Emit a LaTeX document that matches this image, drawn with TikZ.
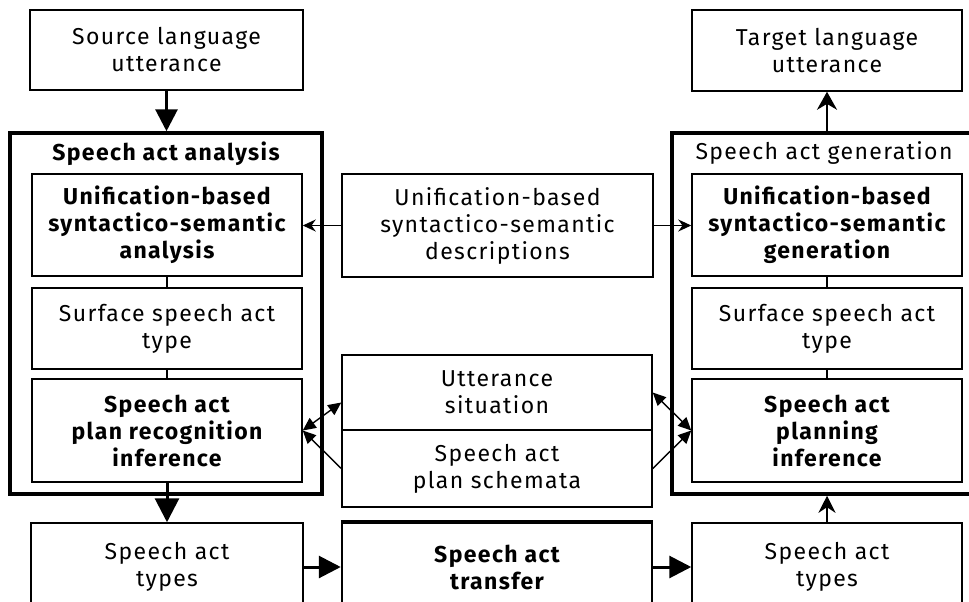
\documentclass[tikz,border=0pt]{standalone}
\usepackage{fontspec}
\setmainfont{Fira Sans}[LetterSpace=6]
\usetikzlibrary{arrows.meta}
\tikzset{dhead/.tip={Triangle[length=13pt,width=12pt]}}
\begin{document}
\begin{tikzpicture}[x=1pt,y=-1pt,
  txt/.style={font=\fontsize{23}{27}\selectfont},
  btxt/.style={font=\fontsize{23}{27}\selectfont\bfseries},
  box/.style={draw, line width=1.5pt, align=center, inner sep=0pt, txt},
  bbox/.style={box, btxt},
  outerbox/.style={draw, line width=3.5pt, inner sep=0pt},
  thin/.style={line width=1.5pt},
  bigarrow/.style={line width=3pt, -{Triangle[length=22pt,width=22pt]}},
  smallhead/.style={line width=1.5pt, -{Stealth[length=13pt,width=12pt]}},
  diag/.style={line width=1.4pt}
]
\useasboundingbox (0,0) rectangle (969,602);
\fill[white] (0,0) rectangle (969,602);
\clip (0,0) rectangle (969,602);

% top boxes
\node[box, minimum width=273pt, minimum height=80pt] (src) at (166.5,50) {Source language\\utterance};
\node[box, minimum width=270pt, minimum height=81pt] (tgt) at (827,50.5) {Target language\\utterance};

% outer boxes
\node[outerbox, minimum width=312pt, minimum height=361pt] (outA) at (166,313.5) {};
\node[outerbox, minimum width=318pt, minimum height=361pt] (outG) at (831,313.5) {};
\node[btxt] (titleA) at (166,154) {Speech act analysis};
\node[txt] (titleG) at (824,153) {Speech act generation};

% analysis column
\node[bbox, minimum width=270pt, minimum height=102pt] (uA) at (167,225) {Unification-based\\syntactico-semantic\\analysis};
\node[box, minimum width=270pt, minimum height=81pt] (sA) at (167,328.5) {Surface speech act\\type};
\node[bbox, minimum width=270pt, minimum height=103pt] (pA) at (167,430.5) {Speech act\\plan recognition\\inference};

% generation column
\node[bbox, minimum width=270pt, minimum height=102pt] (uG) at (827,225) {Unification-based\\syntactico-semantic\\generation};
\node[box, minimum width=270pt, minimum height=81pt] (sG) at (827,328.5) {Surface speech act\\type};
\node[bbox, minimum width=270pt, minimum height=103pt] (pG) at (827,430.5) {Speech act\\planning\\inference};

% middle column
\node[box, minimum width=311pt, minimum height=103pt] (desc) at (497.5,225.5) {Unification-based\\syntactico-semantic\\descriptions};
\node[box, minimum width=310pt, minimum height=75pt] (utt) at (497,392.5) {Utterance\\situation};
\node[box, minimum width=310pt, minimum height=77pt] (sch) at (497,468.5) {Speech act\\plan schemata};

% bottom row
\node[box, minimum width=272pt, minimum height=88pt] (tA) at (167,567) {Speech act\\types};
\node[bbox, line width=2.5pt, minimum width=310pt, minimum height=88pt] (tr) at (497,567) {Speech act\\transfer};
\draw[line width=4pt] (tr.north west) -- (tr.north east);
\node[box, minimum width=270pt, minimum height=88pt] (tG) at (827,567) {Speech act\\types};

% connectors
\draw[bigarrow] (src.south) -- (src.south |- outA.north);
\draw[line width=2.5pt, -{Stealth[length=18pt,width=20pt]}] (tgt.south |- outG.north) -- (tgt.south);

\draw[thin] (uA) -- (sA);
\draw[thin] (sA) -- (pA);
\draw[thin] (uG) -- (sG);
\draw[thin] (sG) -- (pG);

\draw[smallhead] (desc.west) -- (desc.west -| uA.east);
\draw[smallhead] (desc.east) -- (desc.east -| uG.west);

\draw[diag, dhead-dhead] (pA.east) -- ([yshift=-10pt]utt.west);
\draw[diag, -dhead] (sch.west) -- (pA.east);
\draw[diag, dhead-dhead] (pG.west) -- (utt.east);
\draw[diag, -dhead] (sch.east) -- (pG.west);

\draw[line width=3pt, -{Triangle[length=24pt,width=24pt]}] (pA.south) -- (tA.north);
\draw[line width=2.5pt, -{Stealth[length=17pt,width=17pt]}] (tG.north) -- (tG.north |- outG.south);
\draw[bigarrow] (tA.east) -- (tr.west);
\draw[bigarrow] (tr.east) -- (tG.west);
\end{tikzpicture}
\end{document}
